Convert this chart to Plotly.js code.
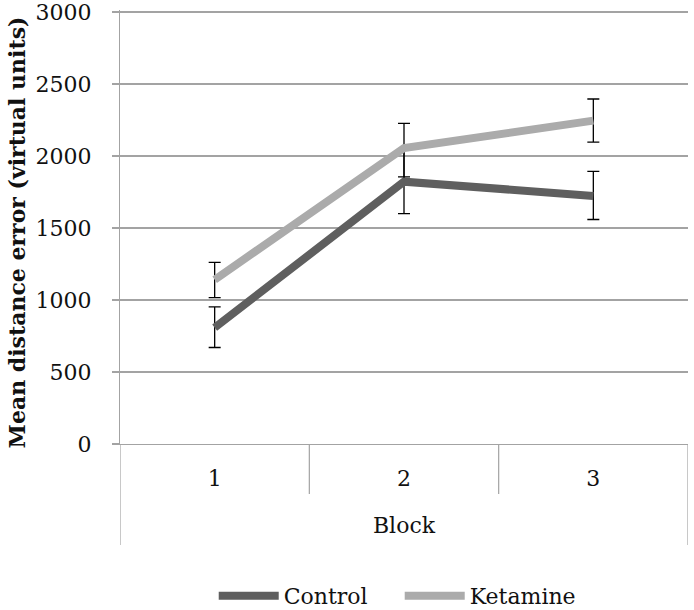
<!DOCTYPE html>
<html>
<head>
<meta charset="utf-8">
<script src="https://cdn.plot.ly/plotly-3.0.1.min.js"></script>
<style>html,body{margin:0;padding:0;background:#fff;}#chart{width:694px;height:610px;}</style>
</head>
<body>
<div id="chart"></div>
<script>
// ---- data ----
var blocks = [1, 2, 3];
var blockLabels = ['1', '2', '3'];
var controlMean = [808, 1822, 1723];
var controlErrPlus = [144, 225, 170];
var controlErrMinus = [138, 222, 164];
var ketamineMean = [1141, 2055, 2246];
var ketamineErrPlus = [121, 172, 150];
var ketamineErrMinus = [124, 200, 149];
var yTicks = [0, 500, 1000, 1500, 2000, 2500, 3000];
var seriesNames = ['Control', 'Ketamine'];
var xTitle = 'Block';
var yTitle = 'Mean distance error (virtual units)';

var FONT = '"DejaVu Serif", serif';
var GRID = '#a3a3a3';

var traces = [
  {
    x: blocks, y: controlMean, name: seriesNames[0], type: 'scatter', mode: 'lines',
    line: {color: '#5f5f5f', width: 8},
    error_y: {type: 'data', symmetric: false, array: controlErrPlus, arrayminus: controlErrMinus,
              color: '#000', thickness: 1.3, width: 6}
  },
  {
    x: blocks, y: ketamineMean, name: seriesNames[1], type: 'scatter', mode: 'lines',
    line: {color: '#ababab', width: 8},
    error_y: {type: 'data', symmetric: false, array: ketamineErrPlus, arrayminus: ketamineErrMinus,
              color: '#000', thickness: 1.3, width: 6}
  }
];

var sepShapes = [];
[0.5, 1.5, 2.5, 3.5].forEach(function (v, i) {
  var outer = (i === 0 || i === 3);
  sepShapes.push({type: 'line', xref: 'x', yref: 'paper', x0: v, x1: v, y0: 0,
    y1: outer ? -0.2326 : -0.1151, line: {color: GRID, width: 1.2}});
});

var layout = {
  width: 694, height: 610,
  margin: {l: 120, r: 6, t: 10, b: 166},
  paper_bgcolor: '#fff', plot_bgcolor: '#fff',
  font: {family: FONT, size: 22, color: '#111'},
  showlegend: true,
  legend: {orientation: 'h', x: 0.165, xanchor: 'left', yref: 'container', y: 0.023, yanchor: 'middle',
           font: {family: FONT, size: 22, color: '#111'}, itemwidth: 60, entrywidth: 111,
           entrywidthmode: 'pixels', traceorder: 'normal'},
  xaxis: {
    range: [0.5, 3.5], tickvals: blocks, ticktext: blockLabels, ticks: '',
    showgrid: false, zeroline: false, showline: true, linecolor: GRID, linewidth: 1.2,
    ticklabelstandoff: 14, tickfont: {family: FONT, size: 22, color: '#111'},
    title: {text: xTitle, standoff: 28, font: {family: FONT, size: 22, color: '#111'}},
    automargin: false, fixedrange: true
  },
  yaxis: {
    range: [0, 3014], tickvals: yTicks, ticktext: yTicks.map(String),
    ticks: 'outside', ticklen: 7, tickcolor: GRID, tickwidth: 1.2,
    showgrid: true, gridcolor: GRID, gridwidth: 1.2, zeroline: false,
    showline: true, linecolor: GRID, linewidth: 1.2, ticklabeloverflow: 'allow',
    ticklabelstandoff: 16, tickfont: {family: FONT, size: 22, color: '#111'},
    automargin: false, fixedrange: true
  },
  annotations: [{
    text: '<b>' + yTitle + '</b>', xref: 'paper', yref: 'paper', x: -0.181, y: 0.488,
    xanchor: 'center', yanchor: 'middle', textangle: -90, showarrow: false,
    font: {family: FONT, size: 22, color: '#111'}
  }],
  shapes: sepShapes
};

Plotly.newPlot('chart', traces, layout, {displayModeBar: false, staticPlot: true});
</script>
</body>
</html>
